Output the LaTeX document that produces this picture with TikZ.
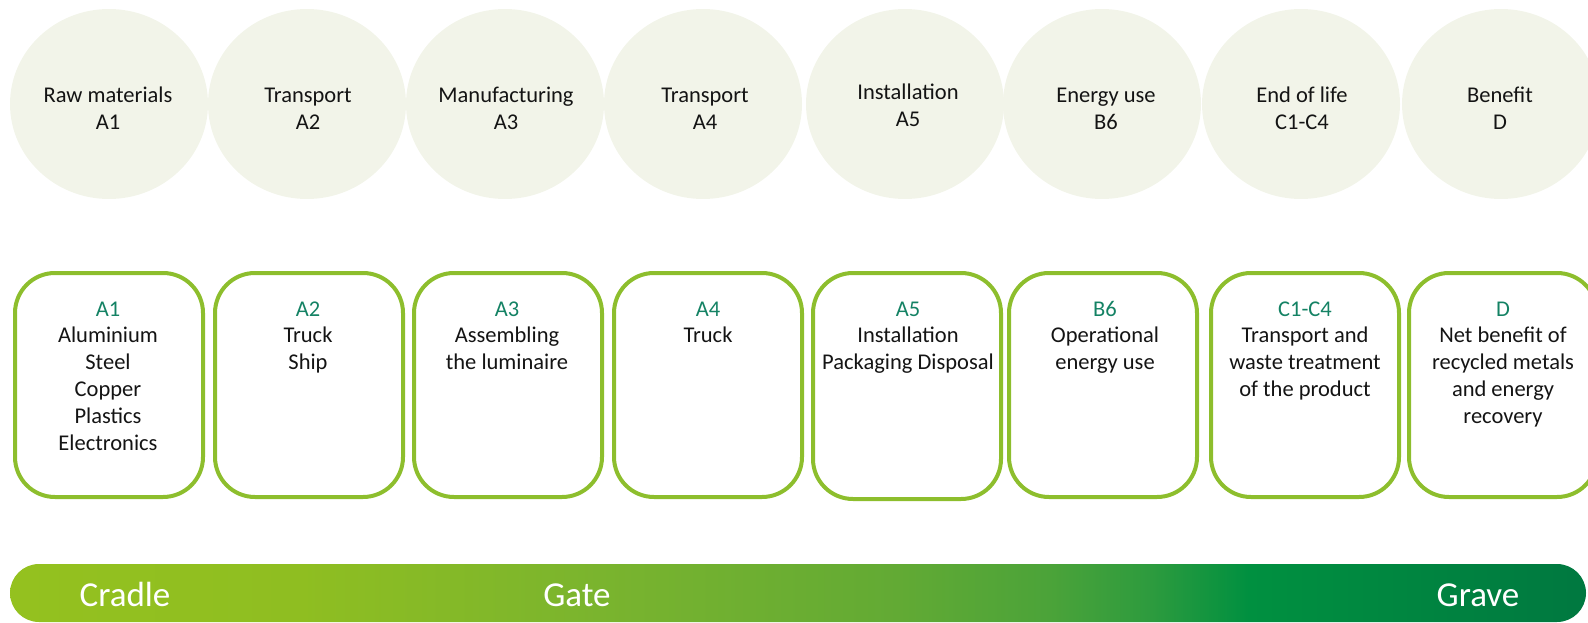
\documentclass[tikz,border=0pt]{standalone}
\usepackage{fontspec}
\setmainfont{Carlito}
\usetikzlibrary{shapes.geometric}
\definecolor{circfill}{RGB}{242,244,233}
\definecolor{boxline}{RGB}{141,190,45}
\definecolor{codecol}{RGB}{20,130,100}
\definecolor{txt}{RGB}{20,20,20}
\definecolor{ga}{RGB}{148,193,31}
\definecolor{gb}{RGB}{143,190,33}
\definecolor{gc}{RGB}{122,180,46}
\definecolor{gd}{RGB}{98,170,52}
\definecolor{ge}{RGB}{75,163,57}
\definecolor{gf}{RGB}{45,155,62}
\definecolor{gg}{RGB}{0,144,64}
\definecolor{gh}{RGB}{0,134,64}
\definecolor{gi}{RGB}{0,120,64}
\pgfdeclarehorizontalshading{barshade}{100bp}{color(0bp)=(ga); color(25bp)=(ga); color(34.2bp)=(gb); color(43.7bp)=(gc); color(53.2bp)=(gd); color(58bp)=(ge); color(61.2bp)=(gf); color(64.3bp)=(gg); color(69.1bp)=(gh); color(75bp)=(gi); color(100bp)=(gi)}
\begin{document}
\begin{tikzpicture}[x=1pt,y=-1pt,
  circ/.style={ellipse, fill=circfill, minimum width=198, minimum height=190, inner sep=0},
  stagebox/.style={draw=boxline, line width=4, rounded corners=40, minimum width=188, minimum height=224, inner sep=0},
  lbl/.style={anchor=north, align=center, inner sep=0, text=txt, font=\fontsize{22.5}{26.8}\selectfont},
  bartext/.style={anchor=base, text=white, font=\fontsize{35}{42}\selectfont, inner sep=0}]
\useasboundingbox (0,0) rectangle (1588,623);
\clip (0,0) rectangle (1588,623);
% circles
\node[circ] (c1) at (109,104) {};
\node[circ] (c2) at (307,104) {};
\node[circ] (c3) at (505,104) {};
\node[circ] (c4) at (703,104) {};
\node[circ] (c5) at (905,104) {};
\node[circ] (c6) at (1102,104) {};
\node[circ] (c7) at (1301,104) {};
\node[circ] (c8) at (1501,104) {};
\node[lbl] (ct1) at (108,84) {\strut Raw materials\\A1};
\node[lbl] (ct2) at (308,84) {\strut Transport\\A2};
\node[lbl] (ct3) at (506,84) {\strut Manufacturing\\A3};
\node[lbl] (ct4) at (705,84) {\strut Transport\\A4};
\node[lbl] (ct5) at (908,81) {\strut Installation\\A5};
\node[lbl] (ct6) at (1106,84) {\strut Energy use\\B6};
\node[lbl] (ct7) at (1302,84) {\strut End of life\\C1-C4};
\node[lbl] (ct8) at (1500,84) {\strut Benefit\\D};
% boxes
\node[stagebox] (b1) at (109,385) {};
\node[stagebox] (b2) at (309,385) {};
\node[stagebox] (b3) at (508,385) {};
\node[stagebox] (b4) at (708,385) {};
\node[stagebox, minimum height=226] (b5) at (907,386) {};
\node[stagebox] (b6) at (1103,385) {};
\node[stagebox] (b7) at (1305,385) {};
\node[stagebox] (b8) at (1503,385) {};
\node[lbl] (bt1) at (108,297.2) {\textcolor{codecol}{\strut A1}\\Aluminium\\Steel\\Copper\\Plastics\\Electronics};
\node[lbl] (bt2) at (308,297.2) {\textcolor{codecol}{\strut A2}\\Truck\\Ship};
\node[lbl] (bt3) at (507,297.2) {\textcolor{codecol}{\strut A3}\\Assembling\\the luminaire};
\node[lbl] (bt4) at (708,297.2) {\textcolor{codecol}{\strut A4}\\Truck};
\node[lbl] (bt5) at (908,297.2) {\textcolor{codecol}{\strut A5}\\Installation\\Packaging Disposal};
\node[lbl] (bt6) at (1105,297.2) {\textcolor{codecol}{\strut B6}\\Operational\\energy use};
\node[lbl] (bt7) at (1305,297.2) {\textcolor{codecol}{\strut C1-C4}\\Transport and\\waste treatment\\of the product};
\node[lbl] (bt8) at (1503,297.2) {\textcolor{codecol}{\strut D}\\Net benefit of\\recycled metals\\and energy\\recovery};
% bar
\node[shade, shading=barshade, rounded corners=29, minimum width=1576, minimum height=58, inner sep=0] (bar) at (798,593) {};
\node[bartext] (cradle) at (125,606) {Cradle};
\node[bartext] (gate) at (577,606) {Gate};
\node[bartext] (grave) at (1478,606) {Grave};
\end{tikzpicture}
\end{document}
